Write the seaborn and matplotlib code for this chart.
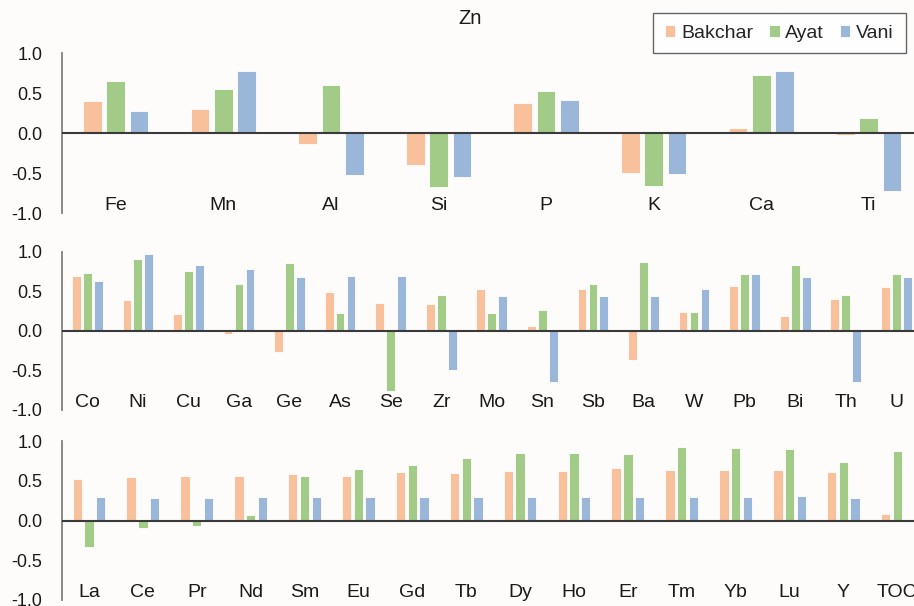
import numpy as np
import pandas as pd
import seaborn as sns
import matplotlib.pyplot as plt

# Correlation with Zn
sites = ['Bakchar', 'Ayat', 'Vani']
colors = ['#F8C09B', '#A2CB87', '#9AB6D9']

elements_1 = ['Fe', 'Mn', 'Al', 'Si', 'P', 'K', 'Ca', 'Ti']
bakchar_1 = [0.40, 0.30, -0.14, -0.40, 0.37, -0.505, 0.06, -0.03]
ayat_1 = [0.645, 0.555, 0.595, -0.675, 0.53, -0.66, 0.73, 0.19]
vani_1 = [0.28, 0.78, -0.53, -0.55, 0.41, -0.51, 0.78, -0.73]

elements_2 = ['Co', 'Ni', 'Cu', 'Ga', 'Ge', 'As', 'Se', 'Zr', 'Mo',
              'Sn', 'Sb', 'Ba', 'W', 'Pb', 'Bi', 'Th', 'U']
bakchar_2 = [0.70, 0.39, 0.21, -0.04, -0.27, 0.49, 0.35, 0.34, 0.53,
             0.06, 0.53, -0.37, 0.24, 0.57, 0.19, 0.40, 0.56]
ayat_2 = [0.73, 0.91, 0.76, 0.59, 0.86, 0.23, -0.76, 0.45, 0.23,
          0.26, 0.60, 0.87, 0.24, 0.72, 0.84, 0.45, 0.72]
vani_2 = [0.63, 0.98, 0.84, 0.78, 0.68, 0.70, 0.69, -0.49, 0.44,
          -0.65, 0.44, 0.44, 0.53, 0.72, 0.68, -0.64, 0.68]

elements_3 = ['La', 'Ce', 'Pr', 'Nd', 'Sm', 'Eu', 'Gd', 'Tb', 'Dy',
              'Ho', 'Er', 'Tm', 'Yb', 'Lu', 'Y', 'TOC']
bakchar_3 = [0.52, 0.55, 0.56, 0.56, 0.59, 0.56, 0.61, 0.60, 0.62,
             0.62, 0.66, 0.64, 0.64, 0.63, 0.61, 0.08]
ayat_3 = [-0.33, -0.10, -0.07, 0.07, 0.56, 0.65, 0.70, 0.79, 0.85,
          0.85, 0.84, 0.92, 0.91, 0.90, 0.73, 0.87]
vani_3 = [0.29, 0.28, 0.28, 0.29, 0.30, 0.29, 0.29, 0.29, 0.29,
          0.29, 0.29, 0.30, 0.30, 0.31, 0.28, np.nan]

panels = [
    (elements_1, [bakchar_1, ayat_1, vani_1]),
    (elements_2, [bakchar_2, ayat_2, vani_2]),
    (elements_3, [bakchar_3, ayat_3, vani_3]),
]

sns.set_style('white')
plt.rcParams['font.family'] = ['Liberation Sans', 'DejaVu Sans']

W, H = 914, 606
fig = plt.figure(figsize=(W / 100, H / 100), dpi=100, facecolor='#fdfcfb')


def frac(x0, y0, x1, y1):
    return [x0 / W, 1 - y1 / H, (x1 - x0) / W, (y1 - y0) / H]


# pixel boxes of the three panels and how many categories fit in view
boxes = [(62, 53, 914, 213), (62, 252, 914, 410), (62, 441, 914, 600)]
x_right = [7.42, 16.35, 15.31]

palette = dict(zip(sites, colors))
axes = []
for i, ((elements, values), box, xr) in enumerate(zip(panels, boxes, x_right)):
    ax = fig.add_axes(frac(*box))
    ax.set_facecolor('none')
    df = pd.DataFrame({
        'element': elements * 3,
        'site': np.repeat(sites, len(elements)),
        'r': np.concatenate(values),
    })
    sns.barplot(data=df, x='element', y='r', hue='site', order=elements,
                hue_order=sites, palette=palette, saturation=1,
                width=0.65, gap=0.2, edgecolor='white', linewidth=0.6,
                legend=(i == 0), ax=ax)
    ax.axhline(0, color='#3a3a3a', lw=1.5, zorder=3)
    ax.set_ylim(-1, 1)
    ax.set_xlim(-0.5, xr)
    ax.set_yticks([-1.0, -0.5, 0.0, 0.5, 1.0])
    ax.set_yticklabels(['-1.0', '-0.5', '0.0', '0.5', '1.0'])
    ax.set_xticks([])
    ax.set_xlabel('')
    ax.set_ylabel('')
    for s in ['top', 'right', 'bottom']:
        ax.spines[s].set_visible(False)
    ax.spines['left'].set_color('#808080')
    ax.spines['left'].set_linewidth(1.3)
    ax.tick_params(axis='y', direction='out', length=4, width=1.2,
                   color='#808080', labelsize=13, labelcolor='#1a1a1a', pad=10)
    for j, name in enumerate(elements):
        ax.text(j, -0.9, name, ha='center', va='center', fontsize=14,
                color='#1a1a1a', clip_on=False)
    axes.append(ax)

handles, labels = axes[0].get_legend_handles_labels()
axes[0].get_legend().remove()
leg = fig.legend(handles, labels, ncol=3, loc='upper left',
                 bbox_to_anchor=(653 / W, 1 - 13 / H), borderaxespad=0,
                 fontsize=14, frameon=True, fancybox=False,
                 edgecolor='#404040', handlelength=0.55, handleheight=0.55,
                 handletextpad=0.3, columnspacing=0.8, borderpad=0.6)
leg.get_frame().set_linewidth(1.0)
leg.get_frame().set_facecolor('white')

fig.text(470 / W, 1 - 18 / H, 'Zn', ha='center', va='center', fontsize=14.5,
         color='#1a1a1a')

fig.savefig('out.png', dpi=100, facecolor=fig.get_facecolor())
